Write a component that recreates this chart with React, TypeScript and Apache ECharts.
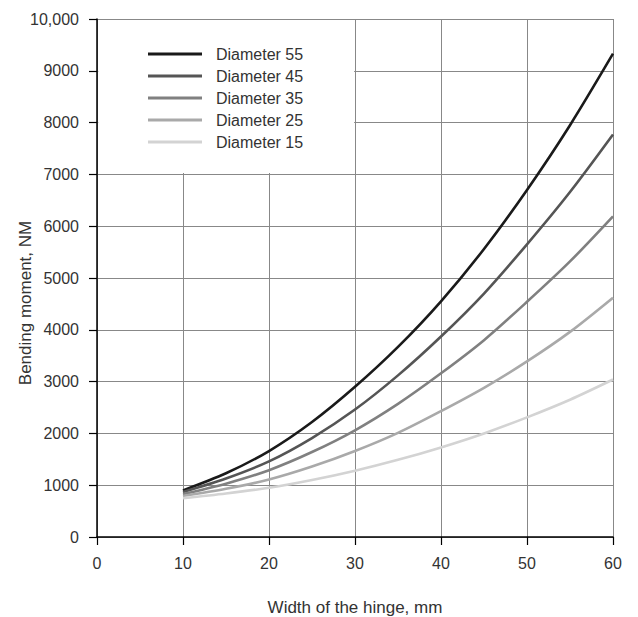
import React, { useEffect, useRef } from "react";
import * as echarts from "echarts";

const widths = [10, 15, 20, 25, 30, 35, 40, 45, 50, 55, 60];
const seriesNames = ["Diameter 55", "Diameter 45", "Diameter 35", "Diameter 25", "Diameter 15"];
const d55 = [900, 1230, 1660, 2220, 2900, 3670, 4550, 5560, 6700, 7950, 9330];
const d45 = [870, 1130, 1460, 1910, 2460, 3120, 3870, 4700, 5650, 6660, 7770];
const d35 = [830, 1030, 1290, 1640, 2060, 2570, 3160, 3800, 4540, 5320, 6190];
const d25 = [790, 930, 1110, 1360, 1660, 2010, 2430, 2880, 3390, 3960, 4620];
const d15 = [750, 840, 950, 1100, 1280, 1490, 1730, 2000, 2310, 2650, 3040];
const seriesValues = [d55, d45, d35, d25, d15];
const seriesColors = ["#1a1a1a", "#555555", "#808080", "#a9a9a9", "#d3d3d3"];
const yTickLabels: Record<number, string> = { 10000: "10,000" };
// legend backdrop region in data units
const legendBoxX = [0.15, 29.9];
const legendBoxY = [7025, 9980];

export default function App() {
  const ref = useRef<HTMLDivElement>(null);
  useEffect(() => {
    if (!ref.current) return;
    const chart = echarts.init(ref.current, null, { renderer: "svg" });
    const font = "'Liberation Sans', Arial, sans-serif";
    const series: any[] = seriesNames.map((name, i) => ({
      name,
      type: "line",
      smooth: 0.3,
      showSymbol: false,
      symbol: "none",
      data: widths.map((w, j) => [w, seriesValues[i][j]]),
      lineStyle: { color: seriesColors[i], width: 2.6 },
      itemStyle: { color: seriesColors[i] },
      z: 3 + i,
    }));
    series[0].markArea = {
      silent: true,
      itemStyle: { color: "#ffffff", opacity: 1 },
      data: [[
        { xAxis: legendBoxX[0], yAxis: legendBoxY[0] },
        { xAxis: legendBoxX[1], yAxis: legendBoxY[1] },
      ]],
    };
    chart.setOption({
      animation: false,
      backgroundColor: "#ffffff",
      textStyle: { fontFamily: font },
      grid: { left: 97, right: 25, top: 19, bottom: 80, containLabel: false, outerBoundsMode: "none" },
      legend: {
        orient: "vertical",
        left: 148,
        top: 45,
        icon: "rect",
        itemWidth: 54,
        itemHeight: 3,
        itemGap: 4,
        padding: 0,
        data: seriesNames,
        textStyle: { fontSize: 16, color: "#333", fontFamily: font, lineHeight: 18, padding: [0, 0, 0, 9] },
      },
      xAxis: {
        type: "value",
        min: 0,
        max: 60,
        interval: 10,
        name: "Width of the hinge, mm",
        nameLocation: "middle",
        nameGap: 62,
        nameMoveOverlap: false,
        nameTextStyle: { fontSize: 17, color: "#333", fontFamily: font },
        axisLine: { show: true, onZero: false, lineStyle: { color: "#000", width: 1.5 } },
        axisTick: { show: true, length: 8, lineStyle: { color: "#000", width: 1.2 } },
        axisLabel: { fontSize: 16, color: "#333", margin: 18, fontFamily: font },
        splitLine: { show: true, lineStyle: { color: "#888", width: 1 } },
      },
      yAxis: {
        type: "value",
        min: 0,
        max: 10000,
        interval: 1000,
        name: "Bending moment, NM",
        nameLocation: "middle",
        nameGap: 63,
        nameMoveOverlap: false,
        nameRotate: 90,
        nameTextStyle: { fontSize: 17, color: "#333", fontFamily: font, padding: [0, 50, 0, 0] },
        axisLine: { show: true, onZero: false, lineStyle: { color: "#000", width: 1.5 } },
        axisTick: { show: true, length: 8, lineStyle: { color: "#000", width: 1.2 } },
        axisLabel: {
          fontSize: 16,
          color: "#333",
          margin: 18,
          fontFamily: font,
          formatter: (v: number) => yTickLabels[v] ?? String(v),
        },
        splitLine: { show: true, lineStyle: { color: "#888", width: 1 } },
      },
      series,
    });
    return () => chart.dispose();
  }, []);
  return (
    <div
      ref={ref}
      style={{ position: "fixed", left: 0, top: 0, width: 638, height: 617, background: "#fff" }}
    />
  );
}
